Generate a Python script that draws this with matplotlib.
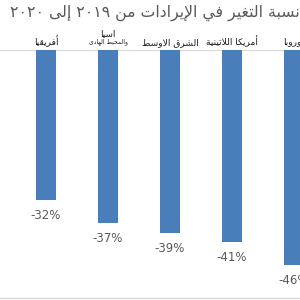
import matplotlib
matplotlib.use("Agg")
import matplotlib.pyplot as plt
from matplotlib.lines import Line2D

# ---- data ----
title = "نسبة التغير في الإيرادات من ٢٠١٩ إلى ٢٠٢٠"
categories = ["شمال أمريكا", "أفريقيا", "اسيا\nوالمحيط الهادى", "الشرق الاوسط",
              "أمريكا اللاتينية", "أوروبا"]
values = [-29, -32, -37, -39, -41, -46]
value_labels = ["-29%", "-32%", "-37%", "-39%", "-41%", "-46%"]

# ---- minimal Arabic shaping (presentation forms) + RTL ordering ----
_letters = [('\u0621', 1), ('\u0622', 2), ('\u0623', 2), ('\u0624', 2), ('\u0625', 2),
            ('\u0626', 4), ('\u0627', 2), ('\u0628', 4), ('\u0629', 2), ('\u062A', 4),
            ('\u062B', 4), ('\u062C', 4), ('\u062D', 4), ('\u062E', 4), ('\u062F', 2),
            ('\u0630', 2), ('\u0631', 2), ('\u0632', 2), ('\u0633', 4), ('\u0634', 4),
            ('\u0635', 4), ('\u0636', 4), ('\u0637', 4), ('\u0638', 4), ('\u0639', 4),
            ('\u063A', 4), ('\u0641', 4), ('\u0642', 4), ('\u0643', 4), ('\u0644', 4),
            ('\u0645', 4), ('\u0646', 4), ('\u0647', 4), ('\u0648', 2), ('\u0649', 2),
            ('\u064A', 4)]
_forms = {}
_c = 0xFE80
for ch, n in _letters:
    _forms[ch] = [chr(_c + k) for k in range(n)]
    _c += n
_lamalef = {'\u0622': ('\uFEF5', '\uFEF6'), '\u0623': ('\uFEF7', '\uFEF8'),
            '\u0625': ('\uFEF9', '\uFEFA'), '\u0627': ('\uFEFB', '\uFEFC')}


def _shape_word(word):
    if all(not ('\u0621' <= c <= '\u064A') for c in word):
        return word
    toks = []
    i = 0
    while i < len(word):
        c = word[i]
        if c == '\u0644' and i + 1 < len(word) and word[i + 1] in _lamalef:
            toks.append(('LA', word[i + 1]))
            i += 2
        else:
            toks.append(('C', c))
            i += 1

    def nforms(t):
        if t[0] == 'LA':
            return 2
        return len(_forms.get(t[1], []))

    out = []
    for j, t in enumerate(toks):
        n = nforms(t)
        prev = j > 0 and nforms(toks[j - 1]) == 4 and n >= 2
        nxt = n == 4 and j + 1 < len(toks) and nforms(toks[j + 1]) >= 2
        if t[0] == 'LA':
            out.append(_lamalef[t[1]][1 if prev else 0])
            continue
        if n == 0:
            out.append(t[1])
            continue
        f = _forms[t[1]]
        if prev and nxt:
            out.append(f[3])
        elif prev:
            out.append(f[1])
        elif nxt:
            out.append(f[2])
        else:
            out.append(f[0])
    return ''.join(reversed(out))


def visual(text):
    # shape each word and place words right-to-left
    return '\n'.join(' '.join(reversed([_shape_word(w) for w in line.split(' ')]))
                     for line in text.split('\n'))


# ---- figure ----
fig = plt.figure(figsize=(3, 3), dpi=100)
ax = fig.add_axes([0, 0, 1, 1])
ax.set_xlim(16 / 62, 316 / 62)
ax.set_ylim(-53.4, 10.68)
ax.axis('off')

x = list(range(len(categories)))
bar_color = '#4a7ebb'
ax.bar(x, values, width=0.32, color=bar_color, zorder=2)
ax.axhline(0, color='#d9d9d9', lw=0.8, zorder=1)

for xi, v, lab in zip(x, values, value_labels):
    ax.annotate(lab, (xi, v), xytext=(0, -11.2), textcoords='offset points',
                ha='center', va='center', fontsize=8.5, color='#595959',
                family='DejaVu Sans')

for xi, cat in zip(x, categories):
    if '\n' in cat:
        l1, l2 = cat.split('\n')
        ax.annotate(visual(l1), (xi, 0), xytext=(0, 10.3), textcoords='offset points',
                    ha='center', va='baseline', fontsize=6.5, color='#1a1a1a')
        ax.annotate(visual(l2), (xi, 0), xytext=(0, 5.2), textcoords='offset points',
                    ha='center', va='baseline', fontsize=4.3, color='#1a1a1a')
    else:
        ax.annotate(visual(cat), (xi, 0), xytext=(0, 3.8), textcoords='offset points',
                    ha='center', va='baseline', fontsize=6.6, color='#1a1a1a')

fig.text(10 / 300, 0.985, visual(title), ha='left', va='top', fontsize=11.3,
         color='#595959')

fig.add_artist(Line2D([0, 1], [0.006, 0.006], transform=fig.transFigure,
                      color='#d9d9d9', lw=1))

fig.savefig('out.png', dpi=100, facecolor='white')
